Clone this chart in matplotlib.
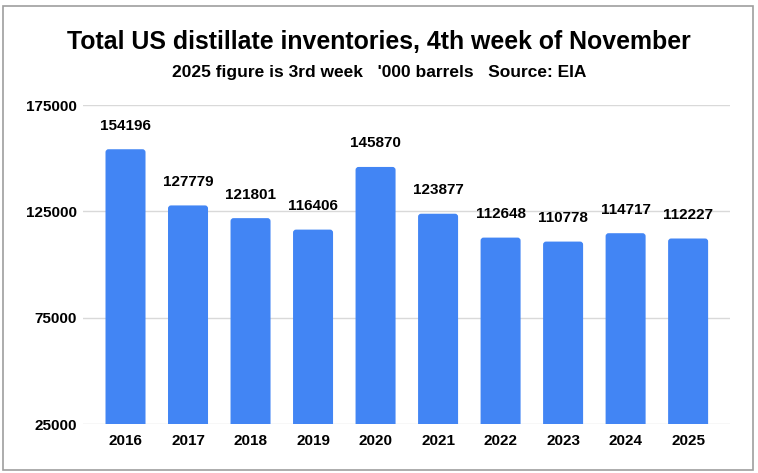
import matplotlib.pyplot as plt
from matplotlib.patches import Rectangle, FancyBboxPatch

plt.rcParams['font.family'] = ['Liberation Sans', 'DejaVu Sans']

years = ["2016", "2017", "2018", "2019", "2020", "2021", "2022", "2023", "2024", "2025"]
stocks = [154196, 127779, 121801, 116406, 145870, 123877, 112648, 110778, 114717, 112227]
y_ticks = [25000, 75000, 125000, 175000]

BAR_COLOR = "#4285F4"
GRID_COLOR = "#d9d9d9"
BAR_W = 0.64
Y_MIN, Y_MAX = 25000, 175000
X_MIN, X_MAX = -0.68, 9.67

fig = plt.figure(figsize=(7.58, 4.73), dpi=100)
W, H = 758, 473

# 차트 테두리
fig.patches.append(Rectangle((3 / W, 1 - 470 / H), 750 / W, 464 / H,
                             transform=fig.transFigure, fill=False,
                             edgecolor="#9e9e9e", linewidth=1.2))

ax_w, ax_h = 647, 319
ax = fig.add_axes([83 / W, 1 - 424 / H, ax_w / W, ax_h / H])

# 위쪽 모서리가 살짝 둥근 막대
px_x = (X_MAX - X_MIN) / ax_w
px_y = (Y_MAX - Y_MIN) / ax_h
for i, v in enumerate(stocks):
    bar = FancyBboxPatch((i - BAR_W / 2, 0), BAR_W, v,
                         boxstyle=f"round,pad=0,rounding_size={3 * px_x}",
                         mutation_aspect=px_y / px_x,
                         facecolor=BAR_COLOR, edgecolor="none", zorder=3)
    ax.add_patch(bar)
    ax.text(i, v + 7800, f"{v}", ha="center", va="bottom",
            fontsize=11, fontweight="bold")

ax.set_ylim(Y_MIN, Y_MAX)
ax.set_xlim(X_MIN, X_MAX)
ax.set_yticks(y_ticks)
ax.set_yticklabels([str(t) for t in y_ticks], fontsize=11, fontweight="bold")
ax.set_xticks(range(len(years)))
ax.set_xticklabels(years, fontsize=11, fontweight="bold")
ax.tick_params(axis="x", length=0, pad=7)
ax.tick_params(axis="y", length=0, pad=4.5)
ax.grid(axis="y", color=GRID_COLOR, linewidth=1, zorder=0)
for s in ax.spines.values():
    s.set_visible(False)

fig.text(0.5, 1 - 42 / H, "Total US distillate inventories, 4th week of November",
         ha="center", va="center", fontsize=17.9, fontweight="bold")
fig.text(0.5, 1 - 73 / H, "2025 figure is 3rd week   '000 barrels   Source: EIA",
         ha="center", va="center", fontsize=12.5, fontweight="bold")

fig.savefig("out.png", dpi=100)
